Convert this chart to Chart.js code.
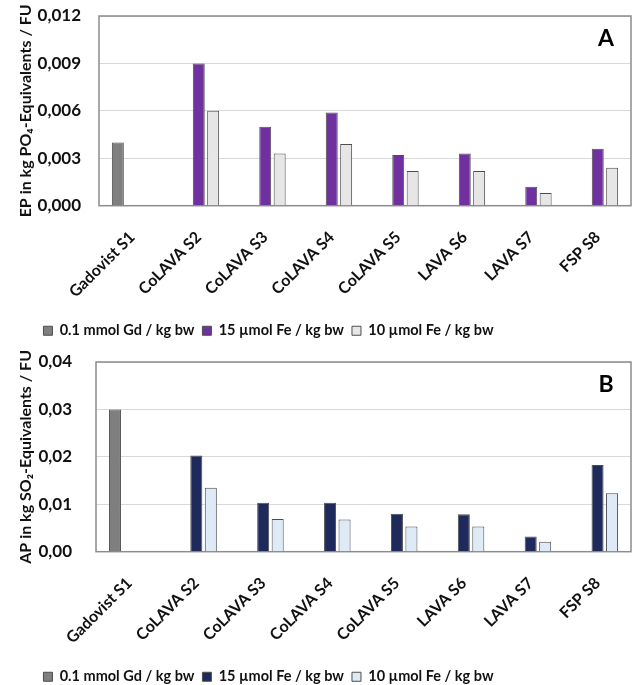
<!DOCTYPE html>
<html>
<head>
<meta charset="utf-8">
<script src="https://cdn.jsdelivr.net/npm/chart.js@4/dist/chart.umd.min.js"></script>
<style>
  html, body { margin: 0; padding: 0; background: #fff; overflow: hidden; }
  canvas { display: block; }
</style>
</head>
<body>
<canvas id="chart-ep" width="632" height="348"></canvas>
<canvas id="chart-ap" width="632" height="346"></canvas>
<script>
// categories and series
const categories = ['Gadovist S1', 'CoLAVA S2', 'CoLAVA S3', 'CoLAVA S4', 'CoLAVA S5', 'LAVA S6', 'LAVA S7', 'FSP S8'];
const seriesLabels = ['0.1 mmol Gd / kg bw', '15 µmol Fe / kg bw', '10 µmol Fe / kg bw'];

// A: eutrophication potential
const epGd = [0.0040, null, null, null, null, null, null, null];
const epFe15 = [null, 0.0090, 0.0050, 0.0059, 0.0032, 0.0033, 0.0012, 0.0036];
const epFe10 = [null, 0.0060, 0.0033, 0.0039, 0.0022, 0.0022, 0.0008, 0.0024];
const epTicks = [0, 0.003, 0.006, 0.009, 0.012];

// B: acidification potential
const apGd = [0.030, null, null, null, null, null, null, null];
const apFe15 = [null, 0.0203, 0.0103, 0.0103, 0.0080, 0.0079, 0.0032, 0.0183];
const apFe10 = [null, 0.0135, 0.0069, 0.0068, 0.0053, 0.0053, 0.0021, 0.0123];
const apTicks = [0, 0.01, 0.02, 0.03, 0.04];

const FONT = 'Lato, "Open Sans", sans-serif';
Chart.defaults.font.family = FONT;
Chart.defaults.color = '#111';

// draws the box round the plot and the panel letter
const panelDecor = {
    id: 'panelDecor',
    beforeDatasetsDraw(chart, args, opts) {
        const a = chart.chartArea;
        const ctx = chart.ctx;
        ctx.save();
        ctx.strokeStyle = '#8c8c8c';
        ctx.lineWidth = 1.5;
        ctx.strokeRect(a.left, a.top, a.right - a.left, a.bottom - a.top);
        ctx.restore();
    },
    afterDatasetsDraw(chart, args, opts) {
        const a = chart.chartArea;
        const ctx = chart.ctx;
        ctx.save();
        ctx.fillStyle = '#000';
        ctx.font = 'bold 23px ' + FONT;
        ctx.textAlign = 'center';
        ctx.textBaseline = 'middle';
        ctx.fillText(opts.letter, a.right - 25, a.top + 23);
        ctx.restore();
    },
    afterUpdate(chart, args, opts) {
        // Excel centres the legend a bit left of the canvas centre
        const lg = chart.legend;
        lg.left -= opts.legendShift;
        lg.right -= opts.legendShift;
    }
};

function barSet(label, data, color) {
    return {
        label: label,
        data: data,
        backgroundColor: color,
        borderColor: '#4d4d4d',
        borderWidth: 1,
        categoryPercentage: 0.65,
        barPercentage: 0.83
    };
}

function makeChart(id, sets, ticks, decimals, title, letter, padTop, yWidth, tickGap) {
    return new Chart(document.getElementById(id), {
        type: 'bar',
        data: { labels: categories, datasets: sets },
        plugins: [panelDecor],
        options: {
            responsive: false,
            animation: false,
            layout: { padding: { top: padTop, right: 1, left: 16, bottom: 0 } },
            plugins: {
                panelDecor: { letter: letter, legendShift: 55 },
                tooltip: { enabled: false },
                legend: {
                    position: 'bottom',
                    labels: {
                        boxWidth: 9,
                        boxHeight: 9,
                        padding: 8,
                        color: '#111',
                        font: { size: 14.5, weight: 'bold' }
                    }
                }
            },
            scales: {
                x: {
                    grid: { display: false },
                    border: { display: false },
                    // rotated labels fit inside the y-axis gutter, as in Excel
                    afterFit: (scale) => { scale.paddingLeft = 0; scale.paddingRight = 0; },
                    ticks: {
                        minRotation: 45,
                        maxRotation: 45,
                        padding: 14,
                        color: '#111',
                        font: { size: 16, weight: 'bold' }
                    }
                },
                y: {
                    min: ticks[0],
                    max: ticks[ticks.length - 1],
                    afterBuildTicks: (axis) => { axis.ticks = ticks.map(v => ({ value: v })); },
                    afterFit: (scale) => {
                        scale.width = yWidth;
                        scale.paddingTop = 0;
                        scale.paddingBottom = 0;
                    },
                    grid: { color: '#d9d9d9', drawTicks: false },
                    border: { display: false },
                    ticks: {
                        padding: tickGap,
                        color: '#111',
                        font: { size: 17, weight: 'bold' },
                        callback: (v) => v.toFixed(decimals).replace('.', ',')
                    },
                    title: {
                        display: true,
                        text: title,
                        color: '#111',
                        padding: { top: 0, bottom: 2 },
                        font: { size: 16, weight: 'bold' }
                    }
                }
            }
        }
    });
}

makeChart('chart-ep', [
    barSet(seriesLabels[0], epGd, '#7f7f7f'),
    barSet(seriesLabels[1], epFe15, '#7030a0'),
    barSet(seriesLabels[2], epFe10, '#e7e6e6')
], epTicks, 3, 'EP in kg PO₄-Equivalents / FU', 'A', 16, 83, 18);

makeChart('chart-ap', [
    barSet(seriesLabels[0], apGd, '#7f7f7f'),
    barSet(seriesLabels[1], apFe15, '#1f2a5c'),
    barSet(seriesLabels[2], apFe10, '#deebf7')
], apTicks, 2, 'AP in kg SO₂-Equivalents / FU', 'B', 14, 80, 24);
</script>
</body>
</html>
